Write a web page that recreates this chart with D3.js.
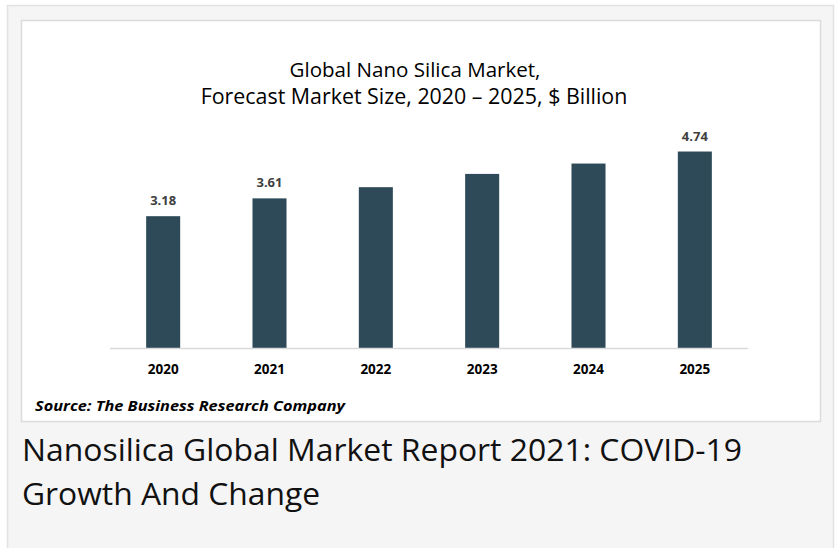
<!DOCTYPE html>
<html>
<head>
<meta charset="utf-8">
<script src="https://cdn.jsdelivr.net/npm/d3@7"></script>
<style>
  html, body { margin: 0; padding: 0; background: #ffffff; }
  svg { display: block; }
</style>
</head>
<body>
<svg id="svg" width="836" height="548"></svg>
<script>
let years=["2020","2021","2022","2023","2024","2025"];
let values=[3.18,3.61,3.88,4.20,4.45,4.74];
let shownLabels=["3.18","3.61","","","","4.74"];
let titleLines=["Global Nano Silica Market,","Forecast Market Size, 2020 – 2025, $ Billion"];
let sourceText="Source: The Business Research Company";
let headingLines=["Nanosilica Global Market Report 2021: COVID-19","Growth And Change"];

const svg=d3.select("#svg");

// outer card
svg.append("rect").attr("x",7.5).attr("y",5.5).attr("width",826).attr("height",560)
  .attr("fill","#f5f5f5").attr("stroke","#e2e2e2").attr("stroke-width",1.5);
// inner white chart image
svg.append("rect").attr("x",21.5).attr("y",20.5).attr("width",799).attr("height",401)
  .attr("fill","#ffffff").attr("stroke","#dcdcdc").attr("stroke-width",1.5);

// fit a text element to a target width by resizing the font
const fit=function(sel,w)
{
    let len=sel.node().getComputedTextLength();
    let fs=parseFloat(sel.style("font-size"));
    sel.style("font-size",(fs*w/len)+"px");
}

let t1=svg.append("text").attr("x",415).attr("y",77).attr("text-anchor","middle")
  .style("font-family","'Open Sans'").style("font-size","18px").style("fill","#000").text(titleLines[0]);
fit(t1,251);
let t2=svg.append("text").attr("x",414).attr("y",104).attr("text-anchor","middle")
  .style("font-family","'Open Sans'").style("font-size","18px").style("fill","#000").text(titleLines[1]);
fit(t2,427);

const x=d3.scaleBand().domain(years).range([110,748]).paddingInner(0.68).paddingOuter(0.34);
const y=d3.scaleLinear().domain([0,5]).range([348,140.75]);

svg.append("g").selectAll("rect").data(values).join("rect")
  .attr("x",(d,i)=>x(years[i])).attr("y",d=>y(d))
  .attr("width",x.bandwidth()).attr("height",d=>y(0)-y(d))
  .attr("fill","#2e4a58");

svg.append("line").attr("x1",110).attr("x2",748).attr("y1",348.5).attr("y2",348.5)
  .attr("stroke","#d9d9d9").attr("stroke-width",1.5);

svg.append("g").selectAll("text").data(values).join("text")
  .attr("x",(d,i)=>x(years[i])+x.bandwidth()/2).attr("y",d=>y(d)-11)
  .attr("text-anchor","middle").style("font-family","'Open Sans'").style("font-weight",700)
  .style("font-size","13px").style("fill","#404040").text((d,i)=>shownLabels[i]);

svg.append("g").selectAll("text").data(years).join("text")
  .attr("x",d=>x(d)+x.bandwidth()/2).attr("y",374)
  .attr("text-anchor","middle").style("font-family","'Open Sans'").style("font-weight",700)
  .style("font-size","13.5px").style("fill","#000").text(d=>d);

svg.append("text").attr("x",35).attr("y",411).attr("textLength",310).attr("lengthAdjust","spacingAndGlyphs")
  .style("font-family","'Open Sans'").style("font-weight",700).style("font-style","italic")
  .style("font-size","15px").style("fill","#000").text(sourceText);

svg.append("text").attr("x",22).attr("y",461).attr("textLength",720).attr("lengthAdjust","spacingAndGlyphs")
  .style("font-family","'Open Sans'").style("font-weight",400)
  .style("font-size","31px").style("fill","#111").text(headingLines[0]);
svg.append("text").attr("x",22).attr("y",505).attr("textLength",298).attr("lengthAdjust","spacingAndGlyphs")
  .style("font-family","'Open Sans'").style("font-weight",400)
  .style("font-size","31px").style("fill","#111").text(headingLines[1]);
</script>
</body>
</html>
